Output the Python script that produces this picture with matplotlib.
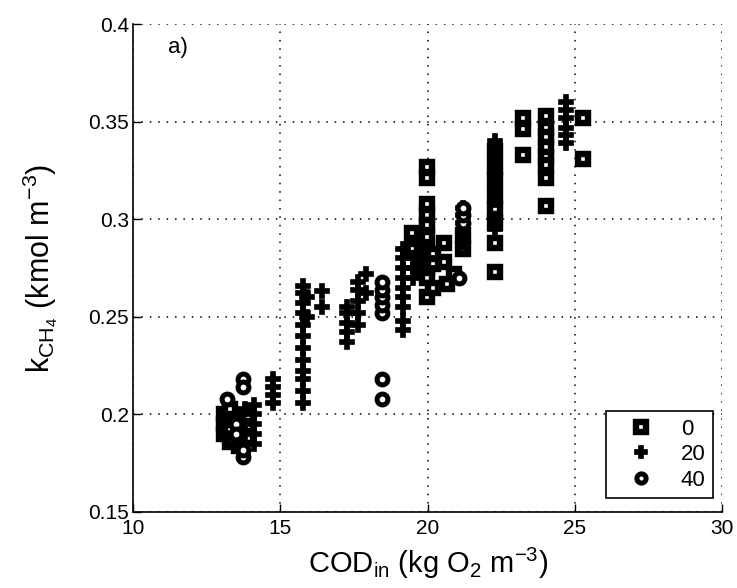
import matplotlib
matplotlib.use("Agg")
import matplotlib.pyplot as plt
from matplotlib import font_manager

names = {f.name for f in font_manager.fontManager.ttflist}
fam = ["Liberation Sans Narrow", "Liberation Sans", "DejaVu Sans"]
fam = [f for f in fam if f in names] + ["DejaVu Sans"]
plt.rcParams["font.family"] = fam
plt.rcParams["mathtext.fontset"] = "custom"
plt.rcParams["mathtext.rm"] = fam[0]
plt.rcParams["mathtext.it"] = fam[0]

# Series "0" (squares)
sq_x = [13.1, 13.1, 13.1, 13.3, 13.3, 13.3, 13.3, 13.6, 13.6, 13.6, 13.9, 13.9, 13.9,
        19.47, 19.47, 19.7, 19.7,
        19.98, 19.98, 19.98, 19.98, 19.98, 19.98, 19.98, 19.98, 19.98, 19.98, 19.98,
        20.2, 20.2, 20.2, 20.56, 20.56, 20.66, 20.9, 21.2, 21.2,
        22.3, 22.3, 22.3, 22.3, 22.3, 22.3, 22.3, 22.3,
        23.25, 23.25, 23.25,
        24.03, 24.03, 24.03, 24.03, 24.03, 24.03, 24.03, 24.03,
        25.28, 25.28]
sq_y = [0.190, 0.195, 0.200, 0.186, 0.192, 0.198, 0.203, 0.184, 0.190, 0.196, 0.188, 0.194, 0.199,
        0.293, 0.285, 0.280, 0.275,
        0.327, 0.321, 0.308, 0.302, 0.297, 0.291, 0.285, 0.280, 0.275, 0.270, 0.260,
        0.282, 0.277, 0.265, 0.288, 0.278, 0.267, 0.272, 0.285, 0.292,
        0.335, 0.327, 0.320, 0.312, 0.305, 0.298, 0.288, 0.273,
        0.352, 0.346, 0.333,
        0.353, 0.347, 0.342, 0.337, 0.332, 0.328, 0.321, 0.307,
        0.352, 0.331]

# Series "20" (plusses)
pl_x = [13.2, 13.2, 13.5, 13.5, 13.8, 13.8,
        14.1, 14.1, 14.1, 14.1, 14.1,
        14.75, 14.75, 14.75, 14.75,
        15.77, 15.77, 15.77, 15.77, 15.77, 15.77, 15.77, 15.77, 15.77, 15.77, 15.77, 15.77,
        15.9, 15.9, 16.4, 16.4,
        17.27, 17.27, 17.27, 17.27, 17.27,
        17.64, 17.64, 17.64, 17.64, 17.64,
        17.9, 17.9,
        19.17, 19.17, 19.17, 19.17, 19.17, 19.17, 19.17, 19.17, 19.17,
        19.5, 19.5, 19.5, 20.0, 20.0,
        21.2, 21.2, 21.2, 21.2, 21.2,
        22.3, 22.3, 22.3, 22.3, 22.3, 22.3, 22.3, 22.3,
        24.7, 24.7, 24.7, 24.7, 24.7, 24.7]
pl_y = [0.188, 0.197, 0.185, 0.200, 0.190, 0.203,
        0.185, 0.190, 0.195, 0.200, 0.205,
        0.206, 0.210, 0.214, 0.218,
        0.206, 0.212, 0.218, 0.222, 0.228, 0.234, 0.240, 0.246, 0.252, 0.257, 0.262, 0.266,
        0.260, 0.250, 0.263, 0.255,
        0.237, 0.242, 0.247, 0.252, 0.255,
        0.246, 0.252, 0.258, 0.264, 0.268,
        0.272, 0.262,
        0.243, 0.248, 0.255, 0.260, 0.265, 0.270, 0.275, 0.280, 0.285,
        0.270, 0.275, 0.280, 0.280, 0.275,
        0.288, 0.293, 0.298, 0.302, 0.306,
        0.340, 0.335, 0.330, 0.325, 0.320, 0.310, 0.300, 0.295,
        0.360, 0.356, 0.352, 0.347, 0.343, 0.339]

# Series "40" (circles)
ci_x = [13.73, 13.73, 13.73, 13.73, 13.2, 13.5, 13.5,
        18.47, 18.47, 18.47, 18.47, 18.47, 18.47, 18.47,
        21.07, 21.2, 21.2, 21.2]
ci_y = [0.218, 0.214, 0.178, 0.182, 0.208, 0.195, 0.190,
        0.252, 0.256, 0.260, 0.264, 0.268, 0.218, 0.208,
        0.270, 0.298, 0.302, 0.306]

labels = ["0", "20", "40"]
x_ticks = [10, 15, 20, 25, 30]
y_ticks = [0.15, 0.2, 0.25, 0.3, 0.35, 0.4]
y_ticklabels = ["0.15", "0.2", "0.25", "0.3", "0.35", "0.4"]

fig = plt.figure(figsize=(7.37, 5.88), dpi=100)
ax = fig.add_axes([0.1805, 0.1293, 0.7992, 0.8297])

ax.plot(sq_x, sq_y, ls="none", marker="s", ms=7.8, mew=4.6, mfc="white", mec="black",
        label=labels[0])
ax.plot(pl_x, pl_y, ls="none", marker="P", ms=10.5, mew=1.2, mfc="black", mec="black",
        label=labels[1])
ax.plot(ci_x, ci_y, ls="none", marker="o", ms=7.8, mew=3.6, mfc="white", mec="black",
        label=labels[2])

ax.set_xlim(10, 30)
ax.set_ylim(0.15, 0.4)
ax.set_xticks(x_ticks)
ax.set_yticks(y_ticks)
ax.set_yticklabels(y_ticklabels)
ax.tick_params(direction="in", length=6, width=1, labelsize=15)
ax.tick_params(axis="x", pad=5)
ax.tick_params(axis="y", pad=3)
ax.grid(True, color="black", linestyle=(0, (1, 4.5)), linewidth=1.1)
ax.spines["top"].set_visible(False)
ax.spines["right"].set_visible(False)
for s in ("left", "bottom"):
    ax.spines[s].set_linewidth(1.2)

ax.set_xlabel(r"COD$_{\mathrm{in}}$ (kg O$_2$ m$^{-3}$)", fontsize=21, labelpad=6)
ax.set_ylabel(r"k$_{\mathrm{CH}_4}$ (kmol m$^{-3}$)", fontsize=22, labelpad=20)
ax.text(11.2, 0.388, "a)", fontsize=16, ha="left", va="center")

leg = ax.legend(loc="lower right", fontsize=16, frameon=True, fancybox=False,
                edgecolor="black", framealpha=1, borderpad=0.35, labelspacing=0.2,
                handletextpad=0.6, handlelength=2.4, markerscale=0.85,
                bbox_to_anchor=(0.985, 0.028), borderaxespad=0.0)
leg.get_frame().set_linewidth(1.2)

fig.savefig("out.png", dpi=100)
